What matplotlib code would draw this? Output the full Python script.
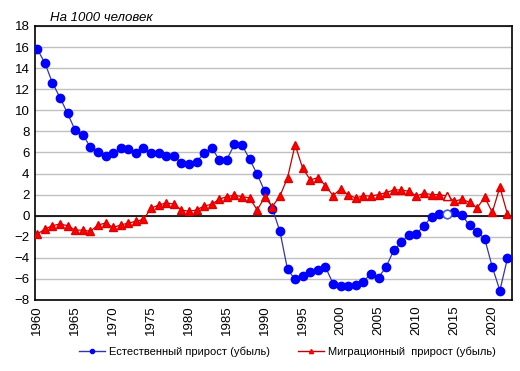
import matplotlib
matplotlib.use("Agg")
import matplotlib.pyplot as plt

plt.rcParams['font.family'] = ['Liberation Sans', 'DejaVu Sans']

years = list(range(1960, 2023))

natural = [15.8, 14.5, 12.6, 11.2, 9.7, 8.1, 7.7, 6.5, 6.0, 5.7,
           5.9, 6.4, 6.3, 5.9, 6.4, 5.9, 5.9, 5.65, 5.65, 5.0,
           4.86, 5.14, 5.9, 6.4, 5.33, 5.33, 6.76, 6.7, 5.36, 3.93,
           2.3, 0.67, -1.49, -5.1, -6.05, -5.7, -5.3, -5.17, -4.86, -6.44,
           -6.63, -6.63, -6.57, -6.25, -5.5, -5.87, -4.86, -3.3, -2.54, -1.81,
           -1.71, -0.95, -0.1, 0.19, 0.16, 0.32, 0.06, -0.92, -1.52, -2.19,
           -4.86, -7.1, -4.06]

migration = [-1.75, -1.27, -0.95, -0.79, -0.95, -1.37, -1.37, -1.49, -0.89, -0.7,
             -1.11, -0.89, -0.7, -0.54, -0.35, 0.7, 1.01, 1.2, 1.11, 0.54,
             0.41, 0.54, 0.92, 1.08, 1.56, 1.81, 1.94, 1.81, 1.68, 0.54,
             1.75, 0.86, 1.87, 3.59, 6.72, 4.5, 3.4, 3.6, 2.86, 1.9,
             2.54, 1.97, 1.68, 1.87, 1.87, 2.0, 2.19, 2.44, 2.44, 2.31,
             1.87, 2.13, 2.0, 2.0, 1.87, 1.37, 1.56, 1.27, 0.73, 1.75,
             0.32, 2.7, 0.16]

open_year = 2014
label_nat = "Естественный прирост (убыль)"
label_mig = "Миграционный  прирост (убыль)"

fig = plt.figure(figsize=(5.2, 3.71), dpi=100)
ax = fig.add_axes([0.0673, 0.1914, 0.9173, 0.7386])

ax.set_ylim(-8, 18)
ax.set_xlim(1959.7, 2022.6)
ax.set_yticks(range(-8, 19, 2))
ax.set_xticks(range(1960, 2021, 5))
ax.yaxis.grid(True, color='#c0c0c0', linewidth=1)
ax.set_axisbelow(True)
ax.axhline(0, color='black', linewidth=1.2, zorder=1)

idx = years.index(open_year)

ax.plot(years, natural, color='#3535a8', linewidth=0.9, marker='o',
        markersize=6, markerfacecolor='#0000ff', markeredgecolor='#0000ff',
        label=label_nat, zorder=3)
ax.plot([open_year], [natural[idx]], linestyle='none', marker='o', markersize=6,
        markerfacecolor='white', markeredgecolor='#4060c0', zorder=4)

ax.plot(years, migration, color='#c00000', linewidth=0.9, marker='^',
        markersize=6, markerfacecolor='#ff0000', markeredgecolor='#e00000',
        label=label_mig, zorder=3)
ax.plot([open_year], [migration[idx]], linestyle='none', marker='^', markersize=6,
        markerfacecolor='white', markeredgecolor='#e00000', zorder=4)

for s in ax.spines.values():
    s.set_color('black')
    s.set_linewidth(1.2)

ax.tick_params(axis='both', length=0, labelsize=9.5, pad=4)
ax.tick_params(axis='x', labelrotation=90)

fig.text(0.097, 0.952, "На 1000 человек", fontsize=9.5, style='italic',
         ha='left', va='center')

h1 = plt.Line2D([], [], color='#3535a8', linewidth=1, marker='o', markersize=3,
                markerfacecolor='#0000ff', markeredgecolor='#0000ff')
h2 = plt.Line2D([], [], color='#c00000', linewidth=1, marker='^', markersize=3,
                markerfacecolor='#ff0000', markeredgecolor='#ff0000')
fig.legend([h1, h2], [label_nat, label_mig], loc='center', ncol=2,
           bbox_to_anchor=(0.553, 0.051), frameon=False, fontsize=8,
           handlelength=2.3, columnspacing=2.5, handletextpad=0.4,
           borderpad=0, borderaxespad=0)

fig.savefig("out.png", dpi=100)
